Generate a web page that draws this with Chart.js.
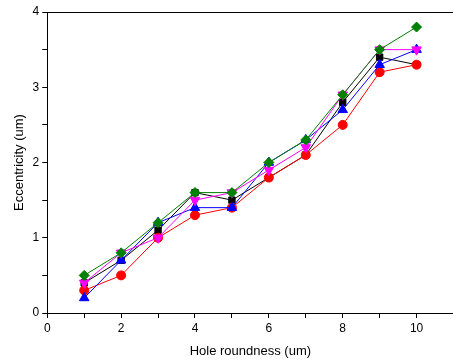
<!DOCTYPE html>
<html>
<head>
<meta charset="utf-8">
<script src="https://cdn.jsdelivr.net/npm/chart.js@4"></script>
<style>
  html, body { margin: 0; padding: 0; background: #fff; overflow: hidden; }
  #wrap { width: 460px; height: 360px; }
</style>
</head>
<body>
<div id="wrap"><canvas id="chart"></canvas></div>
<script>
var xValues = [1, 2, 3, 4, 5, 6, 7, 8, 9, 10];
var blackSeries = [0.4, 0.7, 1.1, 1.6, 1.5, 1.8, 2.1, 2.8, 3.4, 3.3];
var redSeries = [0.3, 0.5, 1.0, 1.3, 1.4, 1.8, 2.1, 2.5, 3.2, 3.3];
var blueSeries = [0.2, 0.7, 1.2, 1.4, 1.4, 2.0, 2.3, 2.7, 3.3, 3.5];
var magentaSeries = [0.4, 0.8, 1.0, 1.5, 1.6, 1.9, 2.2, 2.9, 3.5, 3.5];
var greenSeries = [0.5, 0.8, 1.2, 1.6, 1.6, 2.0, 2.3, 2.9, 3.5, 3.8];
var xTickLabels = [0, 2, 4, 6, 8, 10];
var yTickLabels = [0, 1, 2, 3, 4];

function toPoints(ys) {
  return xValues.map(function (x, i) { return { x: x, y: ys[i] }; });
}

function series(label, ys, color, style, radius, rotation) {
  return {
    label: label,
    data: toPoints(ys),
    borderColor: color,
    backgroundColor: color,
    borderWidth: 1,
    pointStyle: style,
    rotation: rotation || 0,
    pointRadius: radius,
    pointBorderWidth: 1,
    tension: 0
  };
}

var topFrame = {
  id: "topFrame",
  afterDraw: function (chart) {
    var a = chart.chartArea, c = chart.ctx;
    c.save();
    c.strokeStyle = "#000";
    c.lineWidth = 1;
    c.beginPath();
    c.moveTo(a.left, a.top + 0.5);
    c.lineTo(a.right, a.top + 0.5);
    c.stroke();
    c.restore();
  }
};

document.addEventListener("DOMContentLoaded", function () {
  var ctx = document.getElementById("chart").getContext("2d");
  new Chart(ctx, {
    type: "line",
    data: {
      datasets: [
        series("green", greenSeries, "#008000", "rectRot", 5),
        series("magenta", magentaSeries, "#ff00ff", "triangle", 5.5, 180),
        series("blue", blueSeries, "#0000ff", "triangle", 5.5),
        series("red", redSeries, "#ff0000", "circle", 4.5),
        series("black", blackSeries, "#000000", "rect", 4.5)
      ]
    },
    options: {
      responsive: true,
      maintainAspectRatio: false,
      animation: false,
      layout: { padding: { top: 12, right: 0, left: 12, bottom: 1 } },
      plugins: { legend: { display: false }, tooltip: { enabled: false } },
      scales: {
        x: {
          type: "linear",
          min: 0,
          max: 11,
          grid: { drawOnChartArea: false, color: "#000", tickLength: 5 },
          border: { color: "#000", width: 1 },
          ticks: {
            stepSize: 1,
            color: "#000",
            font: { family: "Liberation Sans, Arial", size: 12 },
            maxRotation: 0,
            autoSkip: false,
            callback: function (v) { return xTickLabels.indexOf(v) >= 0 ? String(v) : ""; }
          },
          title: {
            display: true,
            text: "Hole roundness (um)",
            color: "#000",
            font: { family: "Liberation Sans, Arial", size: 13 },
            padding: { top: 5, bottom: 0 }
          }
        },
        y: {
          min: 0,
          max: 4,
          grid: { drawOnChartArea: false, color: "#000", tickLength: 5 },
          border: { color: "#000", width: 1 },
          ticks: {
            stepSize: 0.5,
            color: "#000",
            font: { family: "Liberation Sans, Arial", size: 12 },
            autoSkip: false,
            callback: function (v) { return yTickLabels.indexOf(v) >= 0 ? String(v) : ""; }
          },
          title: {
            display: true,
            text: "Eccentricity (um)",
            color: "#000",
            font: { family: "Liberation Sans, Arial", size: 13 },
            padding: { top: 0, bottom: 2 }
          }
        }
      }
    },
    plugins: [topFrame]
  });
});
</script>
</body>
</html>
